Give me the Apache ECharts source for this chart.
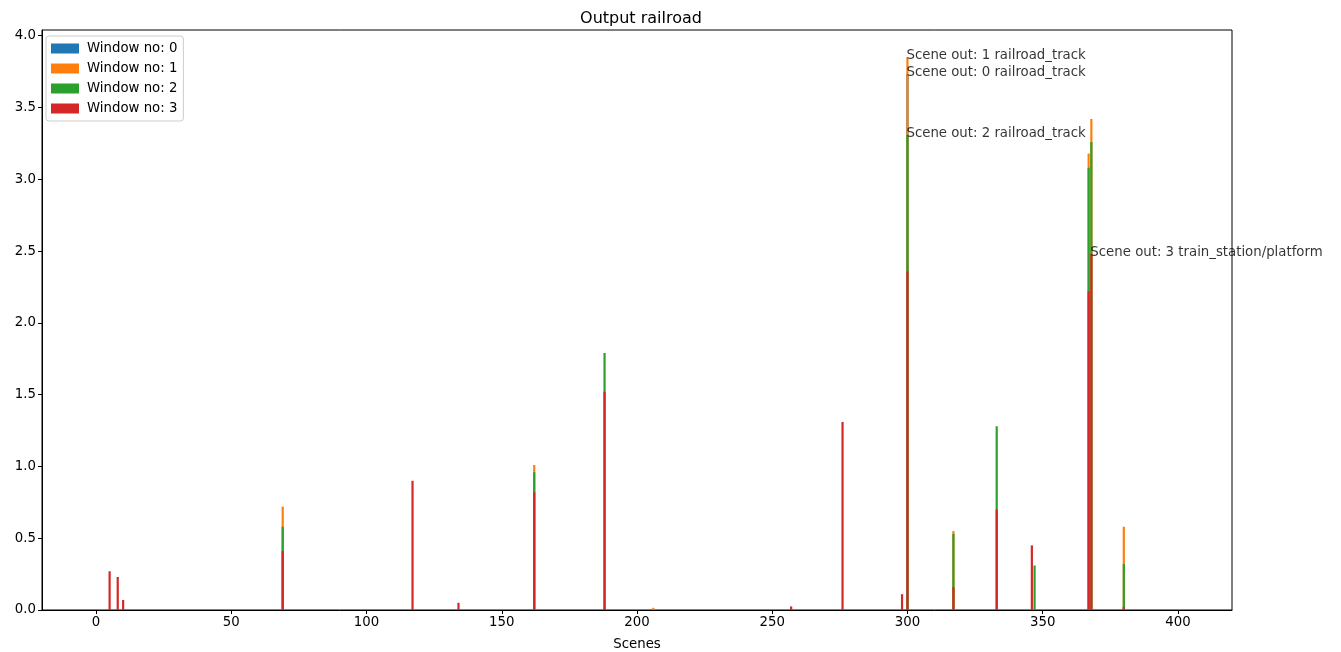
<!DOCTYPE html>
<html>
<head>
	<meta charset="utf-8" />
	<title>Output railroad</title>
	<script src="https://cdn.jsdelivr.net/npm/echarts@6/dist/echarts.min.js"></script>
	<style>
		html, body { margin: 0; padding: 0; background: #fff; }
	</style>
</head>
<body>
	<div id="chart" style="width:1341px;height:652px"></div>
	<script>
		// scenes that have any output, and the value of each window at those scenes
		var scenes = [5, 8, 10, 69, 117, 134, 162, 188, 206, 257, 276, 298, 300, 317, 333, 346, 347, 367, 368, 380];
		var win0 = [0, 0, 0, 0, 0, 0, 0, 0, 0, 0, 0, 0, 3.73, 0, 0, 0, 0, 0, 0, 0];
		var win1 = [0, 0, 0, 0.72, 0, 0, 1.01, 0, 0.015, 0, 0, 0, 3.85, 0.55, 0, 0, 0, 3.18, 3.42, 0.58];
		var win2 = [0, 0, 0, 0.58, 0, 0, 0.96, 1.79, 0, 0, 0, 0, 3.31, 0.53, 1.28, 0, 0.31, 3.08, 3.26, 0.32];
		var win3 = [0.27, 0.23, 0.07, 0.41, 0.90, 0.05, 0.82, 1.52, 0, 0.025, 1.31, 0.11, 2.36, 0.16, 0.70, 0.45, 0, 2.22, 2.48, 0.02];

		var windowNames = ['Window no: 0', 'Window no: 1', 'Window no: 2', 'Window no: 3'];
		var colors = ['#1f77b4', '#ff7f0e', '#2ca02c', '#d62728'];
		var xTicks = [0, 50, 100, 150, 200, 250, 300, 350, 400];
		var yTicks = [0, 0.5, 1.0, 1.5, 2.0, 2.5, 3.0, 3.5, 4.0];

		// annotations: scene, window, text
		var notes = [
			[300, 1, 'Scene out: 1 railroad_track'],
			[300, 0, 'Scene out: 0 railroad_track'],
			[300, 2, 'Scene out: 2 railroad_track'],
			[368, 3, 'Scene out: 3 train_station/platform']
		];

		var allWins = [win0, win1, win2, win3];
		var font = 'DejaVu Sans';
		var fs = 13.3;

		var series = [];
		for (var w = 0; w < 4; w++) {
			var pts = [];
			for (var i = 0; i < scenes.length; i++) {
				pts.push([scenes[i], allWins[w][i]]);
			}
			series.push({
				name: windowNames[w],
				type: 'bar',
				data: pts,
				barWidth: 2.2,
				barGap: '-100%',
				itemStyle: { color: colors[w] },
				animation: false
			});
		}

		var notePts = notes.map(function (n) {
			var idx = scenes.indexOf(n[0]);
			return { value: [n[0], allWins[n[1]][idx]], text: n[2] };
		});
		series.push({
			type: 'scatter',
			data: notePts,
			symbolSize: 0,
			z: 10,
			animation: false,
			label: {
				show: true,
				position: [0, 0],
				align: 'left',
				verticalAlign: 'bottom',
				offset: [-1, 5],
				fontFamily: font,
				fontSize: fs,
				color: '#000',
				formatter: function (p) { return p.data.text; }
			}
		});

		var option = {
			backgroundColor: '#fff',
			animation: false,
			title: {
				text: 'Output railroad',
				left: 636,
				textAlign: 'center',
				top: 6,
				textStyle: { fontFamily: font, fontSize: 16, fontWeight: 'normal', color: '#000' }
			},
			legend: {
				data: windowNames,
				orient: 'vertical',
				left: 46,
				top: 36,
				itemWidth: 28,
				itemHeight: 10,
				itemGap: 7,
				padding: [6, 6, 6, 5],
				borderColor: '#ccc',
				borderWidth: 1,
				borderRadius: 3,
				backgroundColor: 'rgba(255,255,255,0.8)',
				icon: 'rect',
				textStyle: { fontFamily: font, fontSize: fs, color: '#000', padding: [0, 0, 0, 3] }
			},
			grid: {
				left: 42,
				right: 109,
				top: 30,
				bottom: 42,
				outerBoundsMode: 'none',
				containLabel: false,
				show: true,
				borderColor: '#000',
				borderWidth: 1
			},
			xAxis: {
				type: 'value',
				min: -20,
				max: 420,
				name: 'Scenes',
				nameLocation: 'middle',
				nameGap: 28,
				nameTextStyle: { fontFamily: font, fontSize: fs, color: '#000' },
				splitLine: { show: false },
				axisLine: { onZero: false, lineStyle: { color: '#000' } },
				axisTick: { length: 4, customValues: xTicks, lineStyle: { color: '#000' } },
				axisLabel: { customValues: xTicks, fontFamily: font, fontSize: fs, color: '#000', margin: 6 }
			},
			yAxis: {
				type: 'value',
				min: 0,
				max: 4.04,
				splitLine: { show: false },
				axisLine: { show: true, onZero: false, lineStyle: { color: '#000' } },
				axisTick: { show: true, length: 4, customValues: yTicks, lineStyle: { color: '#000' } },
				axisLabel: {
					customValues: yTicks, fontFamily: font, fontSize: fs, color: '#000', margin: 6,
					formatter: function (v) { return v.toFixed(1); }
				}
			},
			series: series
		};

		var chart = echarts.init(document.getElementById('chart'));
		chart.setOption(option);
	</script>
</body>
</html>
